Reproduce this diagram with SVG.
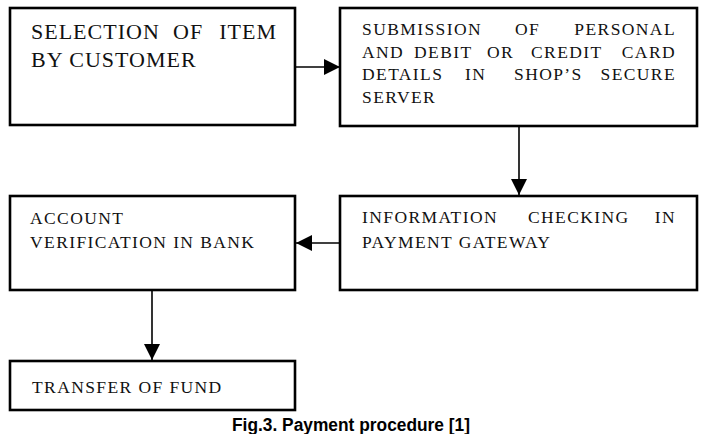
<svg xmlns="http://www.w3.org/2000/svg" width="702" height="434" viewBox="0 0 702 434">
<defs>
<style>
.box{fill:#fff;stroke:#000;stroke-width:2.6}
.t{font-family:'Liberation Serif','Times New Roman',serif;fill:#111;font-size:17.5px;letter-spacing:1.4px}
.big{font-size:22px;letter-spacing:1px}
.e{text-anchor:end}
.con{stroke:#000;stroke-width:1.6;fill:none}
.cap{font-family:'Liberation Sans',Arial,sans-serif;font-weight:bold;font-size:18px;fill:#000}
</style>
<marker id="ahb" viewBox="0 0 10 10" refX="10" refY="5" markerWidth="16" markerHeight="16" markerUnits="userSpaceOnUse" orient="auto">
<path d="M0,0 L10,5 L0,10 Z" fill="#000"/>
</marker>
</defs>
<rect width="702" height="434" fill="#fff"/>
<g id="connectors">
<line x1="295" y1="67" x2="340" y2="67" class="con" marker-end="url(#ahb)"/>
<line x1="519" y1="126" x2="519" y2="195" class="con" marker-end="url(#ahb)"/>
<line x1="340" y1="243" x2="296" y2="243" class="con" marker-end="url(#ahb)"/>
<line x1="152" y1="290" x2="152" y2="360" class="con" marker-end="url(#ahb)"/>
</g>
<g id="n1">
<rect class="box" x="10" y="8" width="285" height="117"/>
<text class="t big" y="39"><tspan x="31">SELECTION</tspan><tspan x="173">OF</tspan><tspan x="277" class="e">ITEM</tspan></text>
<text class="t big" x="31" y="67">BY CUSTOMER</text>
</g>
<g id="n2">
<rect class="box" x="340" y="8" width="357" height="118"/>
<text class="t" y="35"><tspan x="362">SUBMISSION</tspan><tspan x="515">OF</tspan><tspan x="676" class="e">PERSONAL</tspan></text>
<text class="t" y="57.5"><tspan x="362">AND</tspan><tspan x="414">DEBIT</tspan><tspan x="487">OR</tspan><tspan x="531">CREDIT</tspan><tspan x="676" class="e">CARD</tspan></text>
<text class="t" y="80"><tspan x="362">DETAILS</tspan><tspan x="465">IN</tspan><tspan x="514">SHOP’S</tspan><tspan x="676" class="e">SECURE</tspan></text>
<text class="t" x="362" y="102.5">SERVER</text>
</g>
<g id="n3">
<rect class="box" x="340" y="196" width="357" height="94"/>
<text class="t" y="223"><tspan x="362">INFORMATION</tspan><tspan x="528">CHECKING</tspan><tspan x="676" class="e">IN</tspan></text>
<text class="t" x="362" y="248">PAYMENT GATEWAY</text>
</g>
<g id="n4">
<rect class="box" x="10" y="196" width="285" height="94"/>
<text class="t" x="30" y="224">ACCOUNT</text>
<text class="t" x="30" y="248">VERIFICATION IN BANK</text>
</g>
<g id="n5">
<rect class="box" x="10" y="361" width="285" height="49"/>
<text class="t" x="32" y="393">TRANSFER OF FUND</text>
</g>
<text class="cap" x="232" y="431" textLength="238" lengthAdjust="spacingAndGlyphs">Fig.3. Payment procedure [1]</text>
</svg>
